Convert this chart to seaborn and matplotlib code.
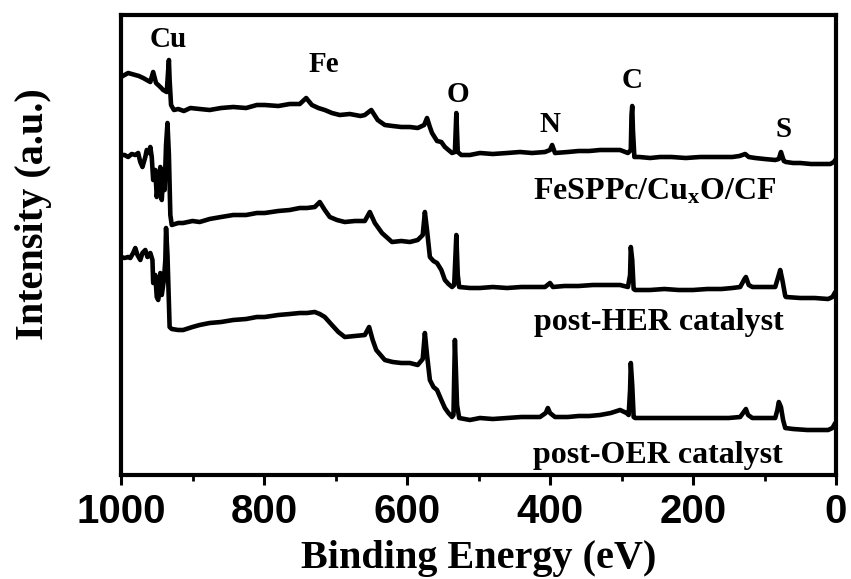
import matplotlib
matplotlib.use("Agg")
import matplotlib.pyplot as plt
import seaborn as sns
import pandas as pd

# ---------------- data (binding energy in eV, intensity in a.u.) ----------------
E_pristine = [1000, 995, 990, 985, 980, 975, 969, 964, 959, 955, 951, 945, 941, 936, 934, 933, 932, 930,
              926, 920, 912, 903, 890, 876, 860, 843, 825, 810, 799, 780, 764, 750, 741, 733, 724, 715,
              705, 694, 680, 665, 659, 650, 641, 631, 620, 608, 596, 585, 576, 572, 568, 565, 558, 552,
              547, 542, 537, 533, 531, 529, 524, 512, 498, 480, 460, 442, 425, 407, 400, 397, 393, 375,
              360, 345, 330, 315, 302, 291, 287, 286, 285, 284, 282, 275, 260, 246, 230, 210, 190, 162,
              145, 135, 127, 122, 113, 100, 85, 80, 77, 73, 70, 60, 50, 35, 20, 8, 3, 0]
I_pristine = [398, 400, 402, 401, 400, 399, 397, 395, 393, 403, 392, 388, 385, 383, 405, 415, 395, 370,
              365, 366, 364, 367, 366, 365, 367, 368, 367, 370, 370, 369, 371, 371, 377, 370, 367, 365,
              362, 360, 361, 359, 360, 365, 355, 350, 349, 348, 348, 347, 350, 357, 348, 342, 334, 333,
              328, 325, 322, 323, 362, 323, 320, 320, 322, 321, 322, 323, 322, 323, 325, 330, 322, 323,
              324, 324, 325, 325, 325, 322, 325, 360, 369, 345, 318, 318, 317, 318, 318, 317, 318, 318,
              318, 319, 321, 318, 317, 316, 315, 316, 323, 314, 313, 312, 312, 311, 311, 311, 313, 316]

E_her = [1000, 995, 990, 985, 980, 976, 973, 970, 966, 964, 961, 959, 957, 955, 952, 950, 948, 945,
         943, 941, 939, 937, 935, 933, 931, 929, 920, 913, 900, 890, 876, 860, 843, 825, 810, 799,
         780, 764, 750, 740, 729, 722, 715, 708, 698, 687, 673, 659, 652, 645, 635, 621, 608, 596,
         585, 578, 575, 572, 568, 563, 558, 552, 547, 542, 537, 534, 531, 529, 527, 512, 498, 480,
         460, 440, 420, 407, 400, 396, 380, 360, 340, 320, 302, 291, 288, 287, 285, 283, 281, 260,
         240, 220, 200, 180, 160, 145, 134, 128, 126, 122, 117, 100, 85, 80, 78, 75, 71, 70, 50, 30,
         11, 5, 1]
I_her = [320, 320, 318, 321, 320, 322, 313, 308, 318, 325, 322, 328, 318, 295, 305, 278, 290, 308,
         275, 300, 285, 330, 352, 320, 260, 250, 252, 252, 254, 253, 256, 258, 260, 260, 262, 262,
         264, 265, 267, 267, 268, 273, 265, 258, 255, 253, 254, 254, 263, 252, 242, 233, 234, 233,
         235, 240, 263, 245, 218, 214, 212, 205, 195, 191, 188, 190, 240, 200, 188, 187, 187, 188,
         187, 188, 188, 188, 192, 188, 189, 189, 190, 190, 190, 188, 200, 228, 215, 186, 185, 185,
         186, 185, 185, 186, 186, 187, 188, 196, 198, 190, 188, 188, 188, 200, 205, 195, 179, 178,
         177, 177, 176, 178, 183]

E_oer = [1000, 995, 990, 987, 983, 980, 977, 973, 970, 966, 963, 959, 956, 955, 952, 950, 948, 946,
         945, 943, 940, 938, 937, 935, 932, 929, 920, 913, 900, 890, 876, 860, 843, 825, 810, 799,
         780, 764, 750, 740, 729, 722, 715, 705, 696, 687, 673, 659, 653, 648, 643, 631, 620, 608,
         596, 585, 578, 575, 572, 568, 563, 558, 552, 547, 542, 537, 535, 533, 530, 527, 512, 498,
         480, 460, 440, 414, 406, 403, 400, 393, 375, 360, 345, 330, 315, 302, 293, 290, 288, 287,
         285, 283, 281, 260, 240, 220, 200, 190, 170, 150, 134, 128, 126, 123, 117, 100, 85, 82, 80,
         77, 74, 71, 60, 40, 20, 11, 5, 1]
I_oer = [218, 217, 218, 217, 222, 227, 220, 215, 222, 225, 218, 222, 215, 192, 200, 178, 175, 185,
         202, 180, 195, 215, 247, 220, 148, 146, 145, 145, 148, 150, 152, 153, 155, 156, 158, 158,
         160, 161, 162, 162, 163, 161, 158, 150, 143, 138, 139, 140, 148, 135, 125, 115, 113, 112,
         112, 110, 116, 142, 120, 95, 88, 85, 75, 67, 62, 58, 60, 135, 70, 57, 55, 57,
         56, 57, 58, 58, 62, 67, 62, 58, 58, 59, 59, 60, 62, 65, 62, 60, 85, 112,
         90, 58, 57, 57, 57, 57, 57, 57, 57, 57, 58, 64, 66, 60, 57, 57, 57, 65, 73,
         68, 55, 47, 46, 45, 45, 45, 47, 52]

sample_names = ["FeSPPc/Cu$_{\\mathrm{x}}$O/CF", "post-HER catalyst", "post-OER catalyst"]
peak_names = ["Cu", "Fe", "O", "N", "C", "S"]
peak_label_E = [934, 716, 529, 400, 285, 74]
peak_label_I = [428, 403, 373, 343, 387, 338]
sample_label_E = [254, 248, 249]
sample_label_I = [275, 145, 12]
tick_values = [1000, 800, 600, 400, 200, 0]
tick_labels = ["1000", "800", "600", "400", "200", "0"]
minor_ticks = [900, 700, 500, 300, 100]

# ---------------- styling ----------------
sns.set_theme(style="white")
plt.rcParams["font.family"] = ["Liberation Serif", "DejaVu Serif"]
plt.rcParams["mathtext.fontset"] = "custom"
plt.rcParams["mathtext.rm"] = "Liberation Serif:bold"
plt.rcParams["mathtext.bf"] = "Liberation Serif:bold"
plt.rcParams["mathtext.it"] = "Liberation Serif:bold"

fig = plt.figure(figsize=(8.51, 5.79), dpi=100)
ax = fig.add_axes([121 / 851, 1 - 475 / 579, 715 / 851, 460 / 579])

for E, I in [(E_pristine, I_pristine), (E_her, I_her), (E_oer, I_oer)]:
    df = pd.DataFrame({"E": E, "I": I})
    sns.lineplot(data=df, x="E", y="I", ax=ax, color="black", lw=3.3,
                 estimator=None, sort=False)

ax.set_xlim(1000, 0)
ax.set_ylim(0, 460)

for s in ax.spines.values():
    s.set_visible(True)
    s.set_linewidth(3)
    s.set_color("black")

ax.set_xticks(tick_values)
ax.set_xticks(minor_ticks, minor=True)
ax.set_xticklabels(tick_labels, fontfamily="Liberation Sans", fontweight="bold", fontsize=29)
ax.tick_params(axis="x", which="major", direction="out", length=7, width=2.2, pad=6,
               bottom=True, colors="black")
ax.tick_params(axis="x", which="minor", direction="out", length=4, width=2, bottom=True,
               colors="black")
ax.tick_params(axis="y", left=False, labelleft=False)
ax.set_yticks([])

ax.set_xlabel("Binding Energy (eV)", fontsize=29, fontweight="bold", color="black", va="bottom")
ax.xaxis.set_label_coords(0.5, (475 - 577) / 460)
ax.set_ylabel("Intensity (a.u.)", fontsize=29, fontweight="bold", color="black", va="center")
ax.yaxis.set_label_coords((33 - 121) / 715, (475 - 214) / 460)

for name, e, i in zip(peak_names, peak_label_E, peak_label_I):
    ax.text(e, i, name, ha="center", va="baseline", fontsize=21, fontweight="bold", color="black")

for name, e, i in zip(sample_names, sample_label_E, sample_label_I):
    ax.text(e, i, name, ha="center", va="baseline", fontsize=23, fontweight="bold", color="black")

fig.savefig("out.png", dpi=100, facecolor="white")
